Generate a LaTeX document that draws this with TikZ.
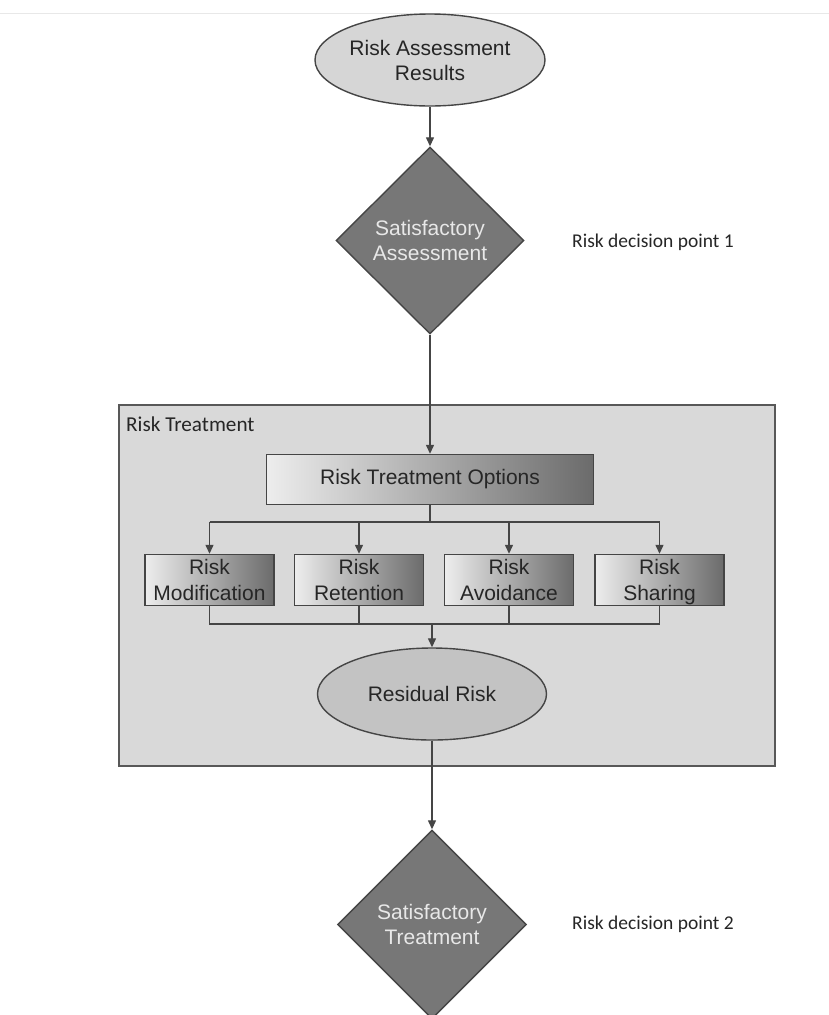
\documentclass[tikz,border=0pt]{standalone}
\usepackage{fontspec}
\setmainfont{Liberation Sans}
\newfontfamily\notefont{Carlito}
\usetikzlibrary{shapes.geometric,arrows.meta}

\definecolor{edgegray}{HTML}{454545}
\definecolor{panelgray}{HTML}{D9D9D9}
\definecolor{ovalgray}{HTML}{D6D6D6}
\definecolor{residgray}{HTML}{C3C3C3}
\definecolor{diamgray}{HTML}{777777}
\definecolor{inkgray}{HTML}{262626}
\definecolor{paletext}{HTML}{E8E8E8}

\tikzset{
  labelfont/.style={font=\fontsize{21}{25}\selectfont, text=inkgray, align=center},
  startoval/.style={ellipse, draw=edgegray, line width=1.4pt, fill=ovalgray,
    minimum width=230pt, minimum height=92pt, inner sep=0pt, labelfont},
  residoval/.style={startoval, fill=residgray, minimum width=229pt},
  decision/.style={diamond, draw=edgegray, line width=1.4pt, fill=diamgray,
    minimum width=188pt, minimum height=187pt, inner sep=0pt, aspect=1,
    labelfont, text=paletext},
  optionbox/.style={rectangle, draw=edgegray, line width=1.4pt,
    left color=white!93!black, right color=black!58, inner sep=0pt, labelfont},
  choicebox/.style={optionbox, minimum width=129pt, minimum height=51pt,
    text depth=0pt, font=\fontsize{21}{25.5}\selectfont},
  panel/.style={rectangle, draw=edgegray!90, line width=1.5pt, fill=panelgray,
    inner sep=0pt},
  notetext/.style={font=\notefont\fontsize{19.5}{23}\selectfont, text=inkgray,
    anchor=west, inner sep=0pt},
  flowline/.style={draw=edgegray, line width=1.3pt},
  flowarrow/.style={flowline, -{Triangle[length=9pt,width=8pt]}}
}

\begin{document}
\begin{tikzpicture}[x=1pt,y=-1pt]
  \useasboundingbox (0,0) rectangle (829,1015);
  % faint rule along the top of the page
  \draw[black!9, line width=1pt] (0,13) -- (829,13);

  % treatment panel behind the options
  \node[panel, minimum width=656pt, minimum height=361pt, anchor=north west]
    (panel) at (118,404) {};
  \node[notetext, font=\notefont\fontsize{21.2}{25}\selectfont] (paneltitle)
    at (126,424) {Risk Treatment};

  % main flow
  \node[startoval] (results) at (430,60) {Risk Assessment\\Results};
  \node[decision] (assess) at (430,240.5) {Satisfactory\\Assessment};
  \node[notetext] (point1) at (572,242) {Risk decision point 1};

  \node[optionbox, minimum width=327pt, minimum height=50pt] (options)
    at (430,479.5) {Risk Treatment Options};

  \node[choicebox] (modif) at (209.5,580) {Risk\\Modification};
  \node[choicebox] (reten) at (359,580) {Risk\\Retention};
  \node[choicebox] (avoid) at (509,580) {Risk\\Avoidance};
  \node[choicebox] (share) at (659.5,580) {Risk\\Sharing};

  \node[residoval] (residual) at (432,694) {Residual Risk};

  \node[decision, minimum width=189pt, minimum height=189pt] (treat)
    at (432,924.5) {Satisfactory\\Treatment};
  \node[notetext] (point2) at (572,924) {Risk decision point 2};

  % connectors
  \coordinate (split) at (430,522);
  \coordinate (join) at (432,624);

  \draw[flowarrow] (results.south) -- (assess.north);
  \draw[flowarrow] (assess.south) -- (options.north);

  \draw[flowline] (options.south) -- (split);
  \draw[flowline] (modif.north |- split) -- (share.north |- split);
  \foreach \n in {modif,reten,avoid,share}
    \draw[flowarrow] (\n.north |- split) -- (\n.north);

  \draw[flowline] (modif.south) -- (modif.south |- join)
    -- (share.south |- join) -- (share.south);
  \draw[flowline] (reten.south) -- (reten.south |- join);
  \draw[flowline] (avoid.south) -- (avoid.south |- join);
  \draw[flowarrow] (join) -- (residual.north);

  \draw[flowarrow] (residual.south) -- (treat.north);
\end{tikzpicture}
\end{document}
